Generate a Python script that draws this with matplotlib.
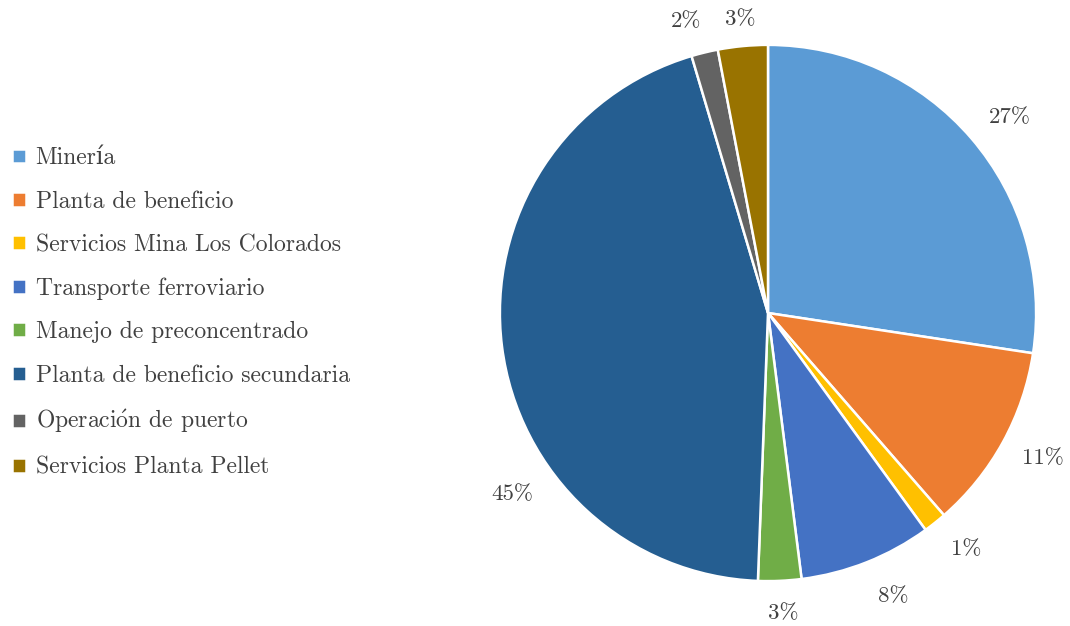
import numpy as np
import matplotlib.pyplot as plt

plt.rcParams['font.family'] = ['cmr10', 'DejaVu Serif']
plt.rcParams['mathtext.fontset'] = 'cm'
plt.rcParams['axes.formatter.use_mathtext'] = True

# datos
categorias = ['Minería', 'Planta de beneficio', 'Servicios Mina Los Colorados',
              'Transporte ferroviario', 'Manejo de preconcentrado',
              'Planta de beneficio secundaria', r'Operaci$\mathrm{\acute{o}}$n de puerto',
              'Servicios Planta Pellet']
valores = [27.4, 11.2, 1.4, 8.0, 2.6, 44.8, 1.6, 3.0]
colores = ['#5B9BD5', '#ED7D31', '#FFC000', '#4472C4', '#70AD47',
           '#255E91', '#636363', '#997300']
# posición de las etiquetas: distancia al centro (radio = 1) y giro en grados
dist_etiq = [1.16, 1.16, 1.15, 1.155, 1.12, 1.17, 1.13, 1.10]
giro_etiq = [-1.6, 1.0, 1.4, 2.2, 0.4, 28.2, 2.0, 0.0]

fig = plt.figure(figsize=(10.7, 6.26), dpi=100)
a = 1.16
ax = fig.add_axes([457 / 1070, 2 / 626, 622 / 1070, 622 / 626])

wedges, texts = ax.pie(valores, colors=colores, startangle=90, counterclock=False,
                       wedgeprops=dict(edgecolor='white', linewidth=1.8))
for w, v, d, g in zip(wedges, valores, dist_etiq, giro_etiq):
    ang = np.deg2rad((w.theta1 + w.theta2) / 2 + g)
    ax.text(d * np.cos(ang), d * np.sin(ang), f'{v:.0f}%', ha='center', va='center',
            fontsize=16.5, color='#404040')
ax.set_xlim(-a, a)
ax.set_ylim(-a, a)
ax.set_aspect('equal')

fig.legend(wedges, categorias, loc='center left', bbox_to_anchor=(12 / 1070, 0.5),
           borderaxespad=0, borderpad=0,
           frameon=False, fontsize=17, handlelength=0.6, handleheight=0.6,
           handletextpad=0.4, labelspacing=0.9, labelcolor='#404040')

plt.savefig('out.png', dpi=100)
